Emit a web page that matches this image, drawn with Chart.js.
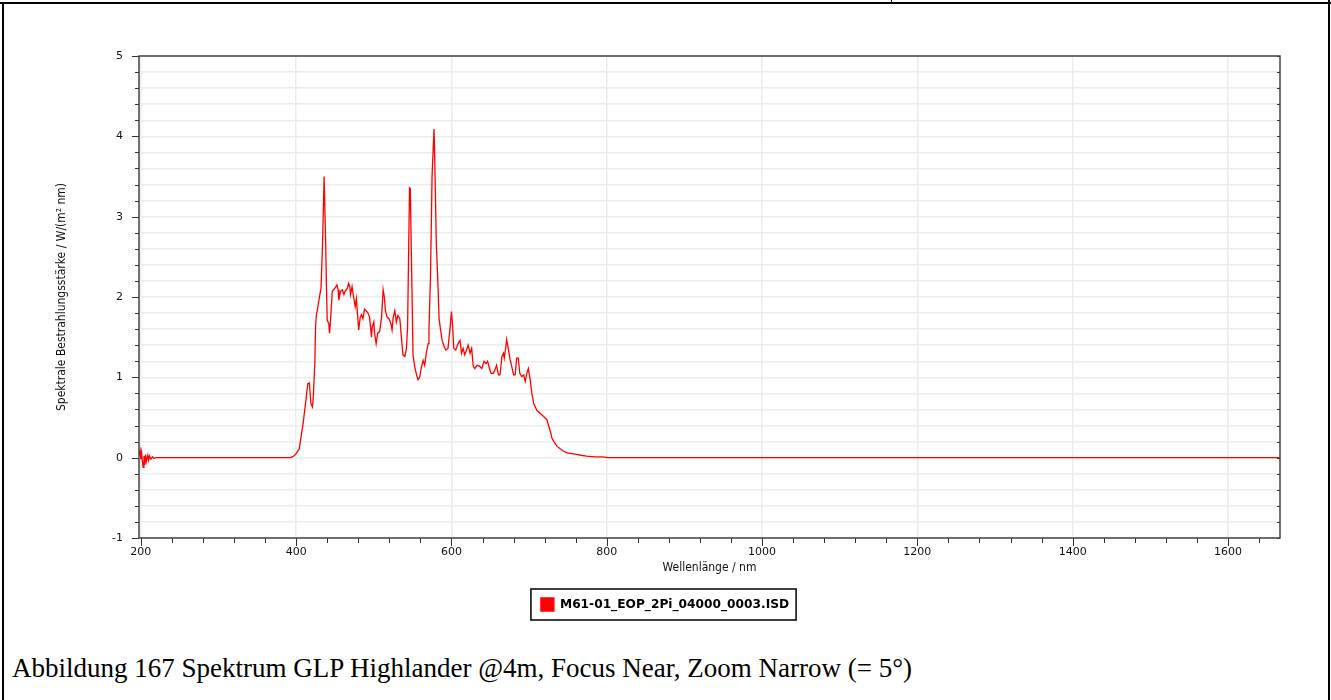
<!DOCTYPE html>
<html>
<head>
<meta charset="utf-8">
<script src="https://cdn.jsdelivr.net/npm/chart.js@4.4.1/dist/chart.umd.min.js"></script>
<style>
  html, body { margin: 0; padding: 0; background: #fff; }
  #page { position: relative; width: 1331px; height: 700px; overflow: hidden; }
  .rule { position: absolute; background: #000; }
  #myChart1 { position: absolute; left: 0; top: 0; }
  #caption {
    position: absolute; left: 12px; top: 653px;
    font-family: "Liberation Serif", "Times New Roman", serif;
    font-size: 27px; white-space: nowrap; color: #000;
  }
</style>
</head>
<body>
<div id="page">
  <div class="rule" style="left:0;top:2px;width:1331px;height:2px"></div>
  <div class="rule" style="left:891px;top:0;width:1px;height:3px"></div>
  <div class="rule" style="left:2px;top:2px;width:2px;height:698px"></div>
  <div class="rule" style="left:1328px;top:0;width:2px;height:700px"></div>
  <canvas id="myChart1" width="1331" height="621"></canvas>
  <div id="caption">Abbildung 167 Spektrum GLP Highlander @4m, Focus Near, Zoom Narrow (= 5°)</div>
</div>
<script>
const seriesName = "M61-01_EOP_2Pi_04000_0003.ISD";

// wavelength in nm
const wavelengths = [
  197.6, 199, 200, 201, 202, 203, 204, 205, 206, 207, 209, 210, 211, 213, 215, 217, 219,
  393, 397, 400, 404, 406, 409, 412, 415, 417, 419, 421, 422, 424, 425, 426, 428, 430, 432,
  434, 436, 438, 439, 440, 442, 443, 444, 446.5, 448, 450, 452.5, 454, 455, 457, 459.5,
  461.5, 463, 466, 467.5, 469, 470, 472, 474, 476, 477.5, 479, 480.5, 482.5, 484, 486, 488,
  490, 492.5, 494.5, 497, 498, 500, 501, 503, 505, 507.5, 510, 512, 513.5, 515, 517, 519.5,
  522, 523.5, 525, 527, 529, 531, 533.5, 535.5, 537.5, 540, 542, 543.5, 545, 546, 547,
  548.5, 550.5, 552.5, 555, 557, 559, 561, 563.5, 565.5, 567.5, 570, 571, 573, 575, 577.5,
  578.5, 580.5, 583, 584, 586, 588, 590, 592.5, 595.5, 598, 600, 601.5, 603, 605.5, 608.5,
  611, 613, 615, 617, 619.5, 621.5, 624, 626, 628, 630, 633, 636, 639, 642, 644.5, 646.5,
  649, 651, 654, 656, 658, 660.5, 662.5, 665, 667, 668, 670, 671, 673.5, 675.5, 677.5, 680,
  682, 684, 686, 688, 690.5, 693, 695, 697, 699, 701.5, 703.5, 706, 708, 710, 714.5, 719,
  723, 725, 727.5, 729.5, 732, 736, 740, 744.5, 749, 755, 761, 767, 774, 785, 795, 801, 1667
];

// spectral irradiance in W/(m² nm)
const irradiance = [
  0.03, 0.09, -0.02, 0.06, -0.05, -0.12, 0.02, -0.09, 0.04, -0.05, 0.03, -0.03, 0.02, -0.02, 0.01, -0.01, 0,
  0, 0.02, 0.05, 0.11, 0.24, 0.43, 0.67, 0.92, 0.93, 0.67, 0.63, 0.75, 1.17, 1.63, 1.77, 1.88, 2.0, 2.11,
  2.67, 3.5, 2.67, 2.13, 1.71, 1.67, 1.55, 1.67, 2.07, 2.09, 2.11, 2.15, 2.09, 1.96, 2.07, 2.09,
  2.03, 2.07, 2.11, 2.17, 2.13, 2.03, 2.13, 2.0, 1.88, 1.98, 1.79, 1.59, 1.75, 1.78, 1.73, 1.85,
  1.83, 1.80, 1.75, 1.50, 1.63, 1.69, 1.55, 1.42, 1.55, 1.57, 1.75, 2.09, 2.0, 1.83, 1.75, 1.73,
  1.67, 1.59, 1.75, 1.83, 1.69, 1.77, 1.73, 1.50, 1.28, 1.26, 1.36, 1.63, 2.67, 3.36, 3.35,
  2.45, 1.28, 1.14, 1.03, 0.97, 1.0, 1.11, 1.21, 1.15, 1.30, 1.42, 1.59, 2.25, 3.50, 4.09,
  3.70, 2.67, 2.05, 1.73, 1.59, 1.46, 1.40, 1.34, 1.36, 1.59, 1.82, 1.63, 1.36, 1.34, 1.42,
  1.46, 1.30, 1.36, 1.28, 1.34, 1.40, 1.30, 1.36, 1.14, 1.11, 1.15, 1.14, 1.11, 1.20, 1.17, 1.20,
  1.11, 1.05, 1.05, 1.09, 1.15, 1.03, 1.03, 1.26, 1.30, 1.24, 1.38, 1.47, 1.34, 1.22, 1.14, 1.03,
  1.03, 1.24, 1.24, 1.05, 1.01, 1.03, 0.95, 1.05, 1.11, 0.96, 0.80, 0.67, 0.63, 0.59, 0.55, 0.51,
  0.47, 0.40, 0.32, 0.24, 0.20, 0.14, 0.11, 0.08, 0.06, 0.05, 0.04, 0.03, 0.02, 0.01, 0.01, 0, 0
];

const xMin = 197.6, xMax = 1667;
const xLabelStep = 200, xMinorStep = 40;
const yMin = -1, yMax = 5, yMinorStep = 0.2;

const isWhole = (v) => Math.abs(v - Math.round(v)) < 1e-6;

Chart.defaults.font.family = '"DejaVu Sans", sans-serif';
Chart.defaults.font.size = 11;
Chart.defaults.color = "#111";

const titleFont = { family: '"DejaVu Sans Condensed", "DejaVu Sans", sans-serif', size: 12 };

// tick marks, plot frame and legend frame
const frames = {
  id: "frames",
  afterDraw(chart) {
    const { ctx, chartArea: a, scales: { x, y } } = chart;
    ctx.save();
    ctx.strokeStyle = "#333";
    ctx.lineWidth = 1;
    ctx.beginPath();
    y.ticks.forEach((t) => {
      const py = Math.round(y.getPixelForValue(t.value)) + 0.5;
      const len = isWhole(t.value) ? 7 : 4;
      ctx.moveTo(a.left, py); ctx.lineTo(a.left - len, py);
      ctx.moveTo(a.right, py); ctx.lineTo(a.right - 3, py);
    });
    x.ticks.forEach((t) => {
      const px = Math.round(x.getPixelForValue(t.value)) + 0.5;
      const len = t.value % xLabelStep === 0 ? 8 : 5;
      ctx.moveTo(px, a.bottom); ctx.lineTo(px, a.bottom + len);
    });
    ctx.stroke();

    ctx.strokeStyle = "#444";
    ctx.lineWidth = 1.5;
    ctx.strokeRect(a.left, a.top, a.right - a.left, a.bottom - a.top);

    const hb = chart.legend.legendHitBoxes[0];
    if (hb) {
      ctx.strokeStyle = "#000";
      ctx.lineWidth = 1.5;
      ctx.strokeRect(hb.left - 10, hb.top - 9, hb.width + 17, hb.height + 18);
    }
    ctx.restore();
  },
};

new Chart(document.getElementById("myChart1"), {
  type: "line",
  data: {
    datasets: [
      {
        label: seriesName,
        data: wavelengths.map((w, i) => ({ x: w, y: irradiance[i] })),
        borderColor: "#ff0000",
        backgroundColor: "#ff0000",
        borderWidth: 1.3,
        pointRadius: 0,
        tension: 0,
      },
    ],
  },
  options: {
    responsive: false,
    animation: false,
    devicePixelRatio: 1,
    layout: { padding: { top: 56, right: 51, left: 50, bottom: 0 } },
    plugins: {
      tooltip: { enabled: false },
      legend: {
        position: "bottom",
        labels: {
          boxWidth: 13,
          boxHeight: 13,
          padding: 20,
          color: "#000",
          font: { size: 12.2, weight: "bold" },
        },
      },
    },
    scales: {
      x: {
        type: "linear",
        min: xMin,
        max: xMax,
        afterFit: (s) => { s.height = 40; },
        afterBuildTicks: (s) => {
          const ticks = [];
          for (let v = xLabelStep; v <= xMax; v += xMinorStep) ticks.push({ value: v });
          s.ticks = ticks;
        },
        border: { display: false },
        grid: {
          drawTicks: false,
          lineWidth: 1.5,
          color: (c) => (c.tick && c.tick.value % xLabelStep === 0 ? "#ececec" : "rgba(0,0,0,0)"),
        },
        ticks: {
          autoSkip: false,
          maxRotation: 0,
          padding: 8,
          callback: (v) => (v % xLabelStep === 0 ? String(v) : ""),
        },
        title: {
          display: true,
          text: "Wellenlänge / nm",
          font: titleFont,
          padding: { top: 0, bottom: 3 },
        },
      },
      y: {
        min: yMin,
        max: yMax,
        afterFit: (s) => { s.width = 89; },
        border: { display: false },
        grid: { drawTicks: false, lineWidth: 1.5, color: "#ececec" },
        ticks: {
          stepSize: yMinorStep,
          autoSkip: false,
          padding: 16,
          callback: (v) => (isWhole(v) ? String(Math.round(v)) : ""),
        },
        title: {
          display: true,
          text: "Spektrale Bestrahlungsstärke / W/(m² nm)",
          font: titleFont,
          padding: { top: 5, bottom: 0 },
        },
      },
    },
  },
  plugins: [frames],
});
</script>
</body>
</html>
